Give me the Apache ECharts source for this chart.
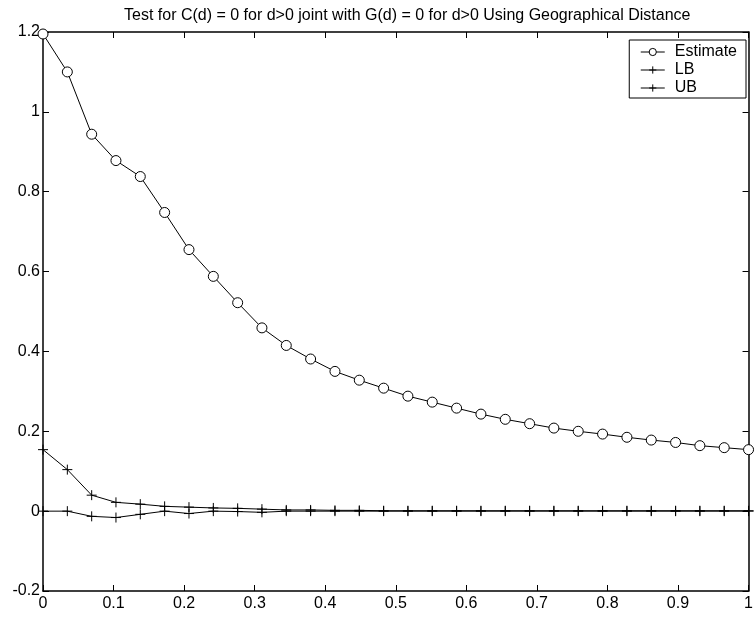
<!DOCTYPE html>
<html><head><meta charset="utf-8">
<script src="https://cdn.jsdelivr.net/npm/echarts@6/dist/echarts.min.js"></script>
<style>html,body{margin:0;padding:0;background:#fff}#c{width:756px;height:618px}</style>
</head><body><div id="c"></div>
<script>
const titleText = 'Test for C(d) = 0 for d>0 joint with G(d) = 0 for d>0 Using Geographical Distance';
const xValues = [0, 0.0345, 0.069, 0.1034, 0.1379, 0.1724, 0.2069, 0.2414, 0.2759, 0.3103,
  0.3448, 0.3793, 0.4138, 0.4483, 0.4828, 0.5172, 0.5517, 0.5862, 0.6207, 0.6552,
  0.6897, 0.7241, 0.7586, 0.7931, 0.8276, 0.8621, 0.8966, 0.931, 0.9655, 1];
const estimate = [1.195, 1.10, 0.944, 0.878, 0.838, 0.748, 0.655, 0.588, 0.522, 0.459,
  0.415, 0.381, 0.35, 0.328, 0.308, 0.288, 0.273, 0.258, 0.243, 0.230,
  0.219, 0.208, 0.200, 0.193, 0.185, 0.178, 0.172, 0.164, 0.159, 0.154];
const lb = [0, 0, -0.013, -0.016, -0.008, 0, -0.006, 0, -0.001, -0.003,
  0, 0, 0, 0, 0, 0, 0, 0, 0, 0, 0, 0, 0, 0, 0, 0, 0, 0, 0, 0];
const ub = [0.154, 0.104, 0.04, 0.022, 0.0175, 0.012, 0.01, 0.008, 0.007, 0.005,
  0.003, 0.003, 0.002, 0.002, 0.001, 0.001, 0.001, 0.001, 0.001, 0.001,
  0.001, 0.001, 0.001, 0.001, 0.001, 0.001, 0.001, 0.001, 0.001, 0.001];
const xTicks = [0, 0.1, 0.2, 0.3, 0.4, 0.5, 0.6, 0.7, 0.8, 0.9, 1];
const yTicks = [-0.2, 0, 0.2, 0.4, 0.6, 0.8, 1, 1.2];

const font = 'Liberation Sans, Arial, sans-serif';
const plus = 'path://M0,5L10,5M5,0L5,10';
function pairs(ys){ return xValues.map((x,i)=>[x, ys[i]]); }
function fmt(v){ return String(Math.round(v*10)/10); }

const chart = echarts.init(document.getElementById('c'), null, {renderer:'canvas'});
const baseX = {type:'value', min:xTicks[0], max:xTicks[xTicks.length-1], interval:0.1, splitLine:{show:false},
  axisLine:{show:true, onZero:false, lineStyle:{color:'#000', width:1.5}},
  axisTick:{show:true, inside:true, length:6, lineStyle:{color:'#000'}}};
const baseY = {type:'value', min:yTicks[0], max:yTicks[yTicks.length-1], interval:0.2, splitLine:{show:false},
  axisLine:{show:true, onZero:false, lineStyle:{color:'#000', width:1.5}},
  axisTick:{show:true, inside:true, length:6, lineStyle:{color:'#000'}}};
chart.setOption({
  animation:false,
  backgroundColor:'#fff',
  title:{text:titleText, left:119, top:3, textStyle:{fontFamily:font, fontSize:16, fontWeight:'normal', color:'#000'}},
  grid:{left:43, right:5, top:32, bottom:27, show:false},
  legend:{
    right:10, top:40, orient:'vertical', itemGap:2, itemWidth:24, itemHeight:9,
    borderColor:'#000', borderWidth:1, borderRadius:0, padding:[4,9,2,11], backgroundColor:'#fff',
    lineStyle:{width:1}, itemStyle:{borderWidth:1},
    textStyle:{fontFamily:font, fontSize:16, color:'#000', padding:[0,0,0,5]},
    data:['Estimate','LB','UB']
  },
  xAxis:[
    Object.assign({}, baseX, {position:'bottom', axisLabel:{show:true, color:'#000', fontFamily:font, fontSize:16, margin:5, formatter:fmt}}),
    Object.assign({}, baseX, {position:'top', axisLabel:{show:false}})
  ],
  yAxis:[
    Object.assign({}, baseY, {position:'left', axisLabel:{show:true, color:'#000', fontFamily:font, fontSize:16, margin:3, formatter:fmt}}),
    Object.assign({}, baseY, {position:'right', axisLabel:{show:false}})
  ],
  series:[
    {name:'Estimate', type:'line', data:pairs(estimate), symbol:'circle', symbolSize:10,
      showAllSymbol:true, lineStyle:{color:'#000', width:1}, itemStyle:{color:'#fff', borderColor:'#000', borderWidth:1}},
    {name:'LB', type:'line', data:pairs(lb), symbol:plus, symbolSize:10, showAllSymbol:true,
      lineStyle:{color:'#000', width:1}, itemStyle:{color:'none', borderColor:'#000', borderWidth:1}},
    {name:'UB', type:'line', data:pairs(ub), symbol:plus, symbolSize:10, showAllSymbol:true,
      lineStyle:{color:'#000', width:1}, itemStyle:{color:'none', borderColor:'#000', borderWidth:1}}
  ]
});
</script></body></html>
